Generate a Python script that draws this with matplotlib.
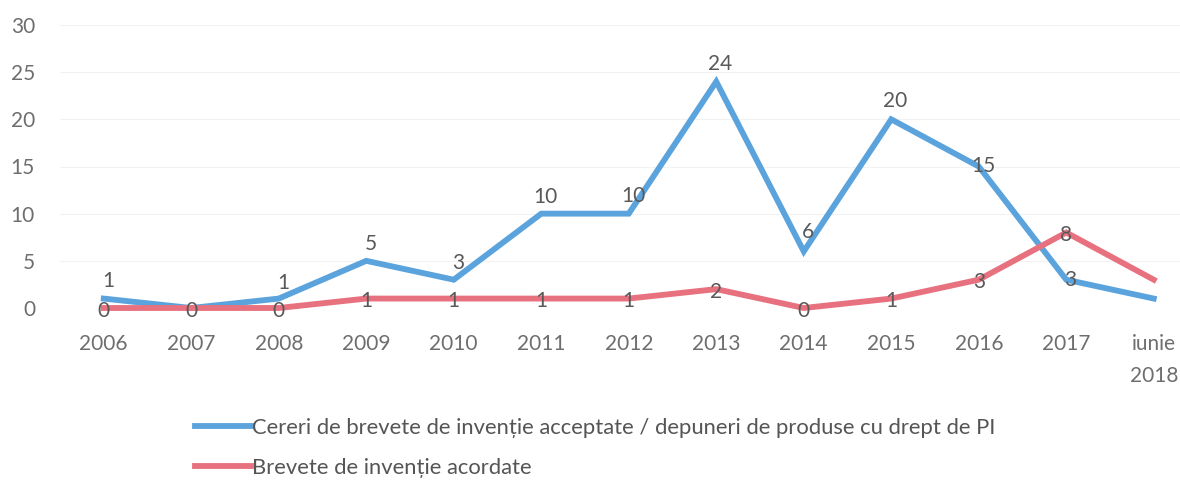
import matplotlib.pyplot as plt

plt.rcParams["font.family"] = ["Lato", "DejaVu Sans"]

# date
ani = ["2006", "2007", "2008", "2009", "2010", "2011", "2012",
       "2013", "2014", "2015", "2016", "2017", "iunie\n2018"]
cereri = [1, 0, 1, 5, 3, 10, 10, 24, 6, 20, 15, 3, 1]
brevete = [0, 0, 0, 1, 1, 1, 1, 2, 0, 1, 3, 8, 3]
# ultimul punct nu are eticheta in original; la 2007 cele doua "0" se suprapun
show_blue = [True, False] + [True] * 10 + [False]
show_red = [True] * 12 + [False]

blue = "#5ba3dc"
red = "#e8717f"
txt = "#595959"

fig = plt.figure(figsize=(11.8, 5.01), dpi=100)
ax = fig.add_axes([60 / 1180, 1 - 308 / 501, 1120 / 1180, 283 / 501])

x = list(range(len(ani)))
ax.plot(x, cereri, color=blue, lw=4.2, solid_joinstyle="miter", clip_on=False, zorder=3)
ax.plot(x, brevete, color=red, lw=4.2, solid_joinstyle="miter", clip_on=False, zorder=4)

# etichete: albastru deasupra, rosu centrat pe punct
dy_blue = [13, 0, 11, 12, 12, 12, 13, 13, 14, 13, 0, 0, 0]
for i in x:
    if show_blue[i]:
        ax.annotate(str(cereri[i]), (i, cereri[i]), xytext=(3, dy_blue[i]),
                    textcoords="offset points", ha="center", va="center",
                    fontsize=15, color=txt, zorder=5)
    if show_red[i]:
        ax.annotate(str(brevete[i]), (i, brevete[i]), xytext=(0, -2),
                    textcoords="offset points", ha="center", va="center",
                    fontsize=15, color=txt, zorder=5)

ax.set_xlim(-0.5, 12.3)
ax.set_ylim(0, 30)
ax.set_yticks(range(0, 31, 5))
ax.set_xticks(x)
ax.set_xticklabels(ani, linespacing=1.75)
ax.grid(axis="y", color="#f2f2f2", lw=0.8)
ax.set_axisbelow(True)
for s in ax.spines.values():
    s.set_visible(False)
ax.tick_params(length=0, labelsize=15, labelcolor="#6e6e6e")
ax.tick_params(axis="x", pad=19)
ax.tick_params(axis="y", pad=18)

h1, = ax.plot([], [], color=blue, lw=4.2)
h2, = ax.plot([], [], color=red, lw=4.2)
fig.legend([h1, h2],
           ["Cereri de brevete de invenție acceptate / depuneri de produse cu drept de PI",
            "Brevete de invenție acordate"],
           loc="upper left", bbox_to_anchor=(195 / 1180, 1 - 418 / 501),
           frameon=False, fontsize=15.8, labelcolor="#555555",
           borderpad=0, borderaxespad=0,
           handlelength=2.55, handletextpad=0.05, labelspacing=0.9)

fig.savefig("out.png", dpi=100, facecolor="white")
